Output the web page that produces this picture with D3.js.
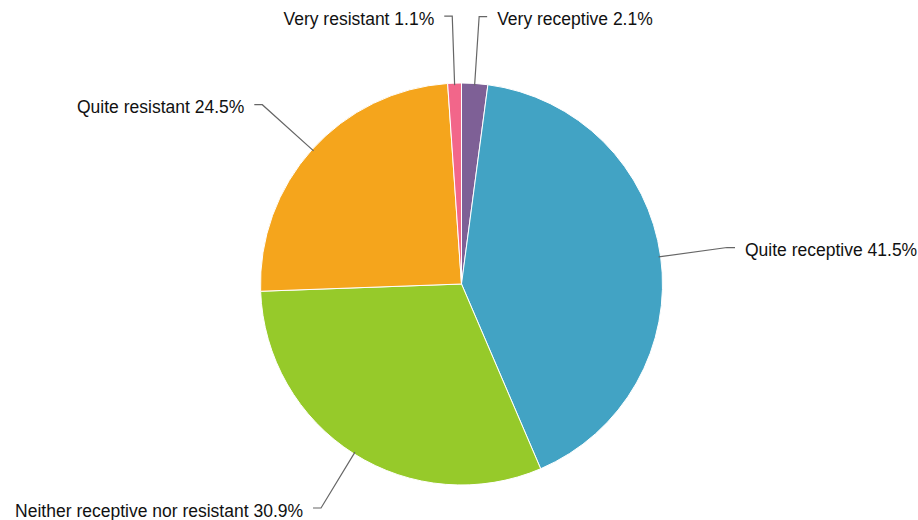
<style>
body {margin:0; background:#fff;}
#pie text {fill:#111; font-size:17.5px; font-family:'Liberation Sans',Arial,sans-serif;}
#pie .leader {fill:none; stroke:#666; stroke-width:1.2;}
</style>
<script src='https://d3js.org/d3.v7.min.js'></script>
<svg id='pie'></svg><script>
var categories=['Very receptive','Quite receptive','Neither receptive nor resistant','Quite resistant','Very resistant'],
    values=[2.1,41.5,30.9,24.5,1.1],
    colors=['#7e6096','#42a3c4','#96ca2a','#f5a51c','#f2668a'];
var width=918,height=520,cx=461.5,cy=284,r=201,rKnee=268;
var svg=d3.select('#pie').attr('width',width).attr('height',height);
var g=svg.append('g').attr('transform','translate('+cx+','+cy+')');
var data=categories.map((c,i)=>({name:c,value:values[i],color:colors[i]}));
var pie=d3.pie().sort(null).value(d=>d.value),
    arc=d3.arc().innerRadius(0).outerRadius(r);
var arcs=pie(data);
g.selectAll('path.slice').data(arcs).enter()
  .append('path').attr('class','slice')
  .attr('d',arc).attr('fill',d=>d.data.color)
  .attr('stroke','#fff').attr('stroke-width',1);
function pt(a,rad){return [rad*Math.sin(a),-rad*Math.cos(a)]};
// keep labels inside the picture
var yMax=height-12-cy;
arcs.forEach(d=>{
  var a=(d.startAngle+d.endAngle)/2,
      side=Math.sin(a)>=0?1:-1,
      p0=pt(a,r-2),k=pt(a,rKnee);
  if(k[1]>yMax){k[0]+=side*-3; k[1]=yMax;}
  var p2=[k[0]+side*8,k[1]];
  g.append('path').attr('class','leader')
   .attr('d','M'+p0+'L'+k+'L'+p2);
  g.append('text').attr('x',p2[0]+side*10).attr('y',k[1]+8.5)
   .attr('text-anchor',side>0?'start':'end')
   .text(d.data.name+' '+d.data.value+'%');
});
</script>
